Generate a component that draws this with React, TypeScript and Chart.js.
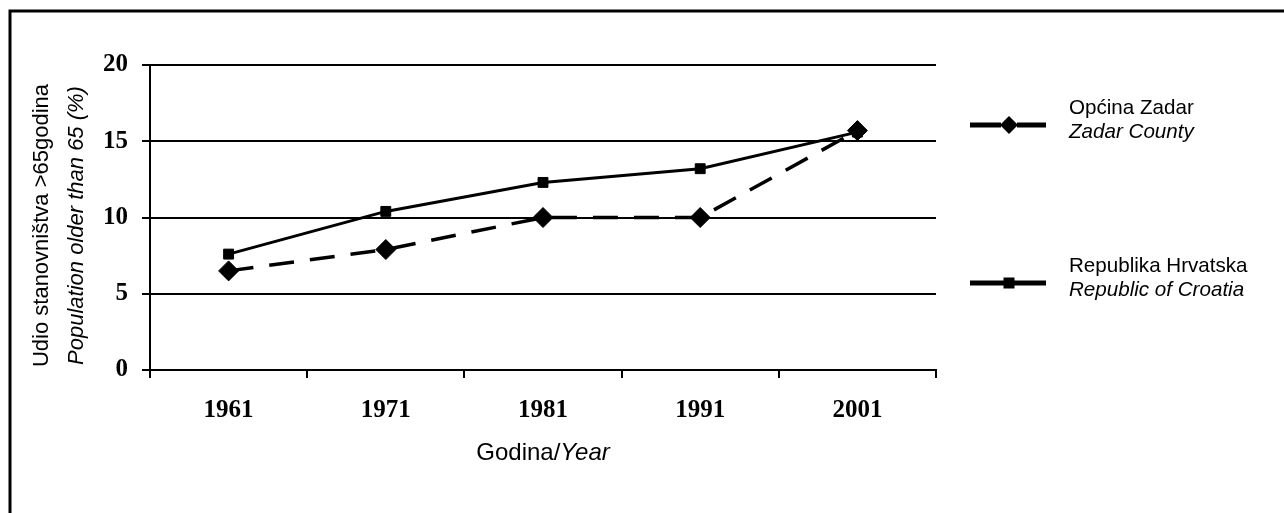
import React, { useEffect, useRef } from "react";
import { Chart, registerables } from "chart.js";

Chart.register(...registerables);

const years = ["1961", "1971", "1981", "1991", "2001"];
const zadarValues = [6.5, 7.9, 10.0, 10.0, 15.7];
const croatiaValues = [7.6, 10.4, 12.3, 13.2, 15.6];
const yMin = 0;
const yMax = 20;
const yStep = 5;
const seriesNamesHr = ["Općina Zadar", "Republika Hrvatska"];
const seriesNamesEn = ["Zadar County", "Republic of Croatia"];
const yTitleHr = "Udio stanovništva >65godina";
const yTitleEn = "Population older than 65 (%)";
const xTitleHr = "Godina/";
const xTitleEn = "Year";

const SANS = "'Liberation Sans', Arial, sans-serif";
const SERIF = "'Liberation Serif', 'Times New Roman', serif";

const decorPlugin = {
  id: "decor",
  afterDraw(chart: any) {
    const ctx: CanvasRenderingContext2D = chart.ctx;
    const a = chart.chartArea;
    ctx.save();
    // outer frame
    ctx.strokeStyle = "#000";
    ctx.lineWidth = 3;
    ctx.setLineDash([]);
    ctx.beginPath();
    ctx.moveTo(10, 520);
    ctx.lineTo(10, 11);
    ctx.lineTo(1290, 11);
    ctx.stroke();

    ctx.fillStyle = "#000";
    // y title
    ctx.save();
    ctx.translate(42, (a.top + a.bottom) / 2 + 8);
    ctx.rotate(-Math.PI / 2);
    ctx.textAlign = "center";
    ctx.textBaseline = "middle";
    ctx.font = "22px " + SANS;
    ctx.fillText(yTitleHr, 0, 0);
    ctx.font = "italic 22px " + SANS;
    ctx.fillText(yTitleEn, 0, 35);
    ctx.restore();

    // x title
    ctx.textBaseline = "middle";
    ctx.textAlign = "left";
    ctx.font = "24px " + SANS;
    const w1 = ctx.measureText(xTitleHr).width;
    ctx.font = "italic 24px " + SANS;
    const w2 = ctx.measureText(xTitleEn).width;
    const cx = (a.left + a.right) / 2;
    const x0 = cx - (w1 + w2) / 2;
    ctx.font = "24px " + SANS;
    ctx.fillText(xTitleHr, x0, 453);
    ctx.font = "italic 24px " + SANS;
    ctx.fillText(xTitleEn, x0 + w1, 453);

    // legend
    const itemTop = [108, 266];
    chart.data.datasets.forEach((ds: any, i: number) => {
      const ty = itemTop[i];
      const ly = ty + 17;
      ctx.strokeStyle = ds.borderColor;
      ctx.lineWidth = 5;
      ctx.setLineDash(ds.borderDash ? [31, 16] : []);
      ctx.beginPath();
      ctx.moveTo(970, ly);
      ctx.lineTo(1046, ly);
      ctx.stroke();
      ctx.setLineDash([]);
      const mx = 1009;
      ctx.fillStyle = ds.pointBackgroundColor;
      ctx.beginPath();
      if (ds.pointStyle === "rectRot") {
        const r = 9;
        ctx.moveTo(mx, ly - r);
        ctx.lineTo(mx + r, ly);
        ctx.lineTo(mx, ly + r);
        ctx.lineTo(mx - r, ly);
        ctx.closePath();
      } else {
        const s = 5.5;
        ctx.rect(mx - s, ly - s, 2 * s, 2 * s);
      }
      ctx.fill();
      ctx.fillStyle = "#000";
      ctx.textAlign = "left";
      ctx.textBaseline = "middle";
      ctx.font = "20.6px " + SANS;
      ctx.fillText(seriesNamesHr[i], 1069, ty);
      ctx.font = "italic 20.6px " + SANS;
      ctx.fillText(seriesNamesEn[i], 1069, ty + 24);
    });
    ctx.restore();
  },
};

export default function App() {
  const ref = useRef<HTMLCanvasElement>(null);
  useEffect(() => {
    const canvas = ref.current;
    if (!canvas) return;
    const chart = new Chart(canvas, {
      type: "line",
      data: {
        labels: years,
        datasets: [
          {
            label: seriesNamesHr[0],
            data: zadarValues,
            borderColor: "#000",
            borderWidth: 3.5,
            borderDash: [25, 16],
            pointStyle: "rectRot",
            pointRadius: 10,
            pointBorderWidth: 1,
            pointBackgroundColor: "#000",
            pointBorderColor: "#000",
            tension: 0,
            fill: false,
          },
          {
            label: seriesNamesHr[1],
            data: croatiaValues,
            borderColor: "#000",
            borderWidth: 3,
            pointStyle: "rect",
            pointRadius: 7,
            pointBorderWidth: 1,
            pointBackgroundColor: "#000",
            pointBorderColor: "#000",
            tension: 0,
            fill: false,
          },
        ],
      },
      options: {
        responsive: false,
        animation: false,
        devicePixelRatio: 1,
        layout: { padding: { left: 0, top: 65, right: 348, bottom: 83 } },
        plugins: {
          legend: { display: false },
          tooltip: { enabled: false },
          title: { display: false },
        },
        scales: {
          x: {
            type: "category",
            offset: true,
            afterFit: (s: any) => {
              s.height = 60;
            },
            grid: {
              offset: true,
              drawOnChartArea: true,
              drawTicks: true,
              tickLength: 8,
              lineWidth: 2,
              color: (c: any) => (c.index === years.length ? "#000" : "rgba(0,0,0,0)"),
              tickColor: "#000",
              tickWidth: 2,
            },
            border: { display: true, color: "#000", width: 2 },
            ticks: {
              color: "#000",
              padding: 18,
              maxRotation: 0,
              font: { family: SERIF, size: 25, weight: "bold" },
            },
          },
          y: {
            min: yMin,
            max: yMax,
            afterFit: (s: any) => {
              s.width = 150;
            },
            ticks: {
              stepSize: yStep,
              color: "#000",
              padding: 14,
              font: { family: SERIF, size: 25, weight: "bold" },
            },
            grid: {
              color: "#000",
              lineWidth: 2,
              drawTicks: true,
              tickLength: 8,
              tickColor: "#000",
            },
            border: { display: true, color: "#000", width: 2 },
          },
        },
      },
      plugins: [decorPlugin],
    });
    return () => chart.destroy();
  }, []);
  return (
    <div style={{ position: "fixed", left: 0, top: 0, width: 1284, height: 513, background: "#fff" }}>
      <canvas ref={ref} width={1284} height={513} style={{ width: 1284, height: 513, display: "block" }} />
    </div>
  );
}
